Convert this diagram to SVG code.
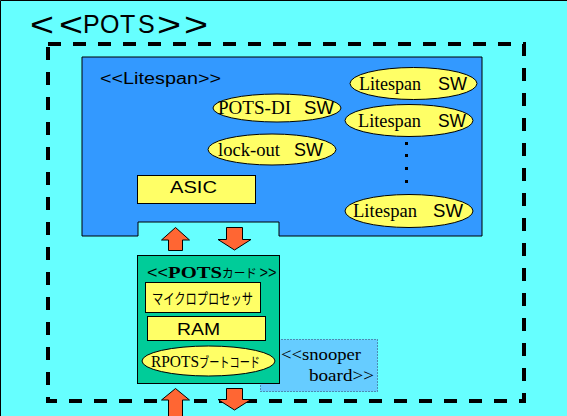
<svg xmlns="http://www.w3.org/2000/svg" width="567" height="416" viewBox="0 0 567 416">
<style>
.sans{font-family:"Liberation Sans","Noto Sans CJK JP",sans-serif;fill:#000}
.serif{font-family:"Liberation Serif","Noto Sans CJK JP",serif;fill:#000}
.cjk{font-family:"Noto Sans CJK JP",sans-serif;fill:#000}
.yel{fill:#FFFF66;stroke:#000;stroke-width:1}
.arrow{fill:#FF6633;stroke:#000;stroke-width:1}
.brk{font-family:"Liberation Sans",sans-serif;font-size:34px;fill:#000}
</style>
<rect x="0" y="0" width="567" height="416" fill="#66FFFF"/>
<path d="M0.5,416 V0.5 H567" fill="none" stroke="#000" stroke-width="1"/>
<g id="pots">
<text y="36"><tspan class="brk" x="30" textLength="24" lengthAdjust="spacingAndGlyphs">&lt;</tspan><tspan class="brk" x="59" textLength="24" lengthAdjust="spacingAndGlyphs">&lt;</tspan><tspan class="sans" font-size="25" x="83" y="33">P</tspan><tspan class="sans" font-size="25" x="100" y="33">O</tspan><tspan class="sans" font-size="25" x="120" y="33">T</tspan><tspan class="sans" font-size="25" x="138" y="33">S</tspan><tspan class="brk" x="157" y="36" textLength="24" lengthAdjust="spacingAndGlyphs">&gt;</tspan><tspan class="brk" x="184" y="36" textLength="24" lengthAdjust="spacingAndGlyphs">&gt;</tspan></text>
<path d="M48,44 H524 V401 H48 Z" fill="none" stroke="#000" stroke-width="4" stroke-dasharray="13 12"/>
</g>
<g id="litespan">
<path d="M82,57 H482 V236 H279 V222 H138 V236 H82 Z" fill="#3399FF" stroke="#000" stroke-width="1"/>
<text class="sans" font-size="16" x="100" y="84" textLength="121" lengthAdjust="spacingAndGlyphs">&lt;&lt;Litespan&gt;&gt;</text>
</g>
<g id="pots-di">
<ellipse class="yel" cx="277" cy="108" rx="64" ry="14"/>
<text y="114"><tspan class="serif" font-size="18" x="218" textLength="73" lengthAdjust="spacingAndGlyphs">POTS-DI</tspan><tspan class="sans" font-size="18" x="304" textLength="30" lengthAdjust="spacingAndGlyphs">SW</tspan></text>
</g>
<g id="lock-out">
<ellipse class="yel" cx="272" cy="149.5" rx="64" ry="15.5"/>
<text y="156"><tspan class="serif" font-size="18" x="218" textLength="62" lengthAdjust="spacingAndGlyphs">lock-out</tspan><tspan class="sans" font-size="18" x="294" textLength="29" lengthAdjust="spacingAndGlyphs">SW</tspan></text>
</g>
<g id="litespan-sw1">
<ellipse class="yel" cx="413.5" cy="83.5" rx="63.5" ry="16"/>
<text y="90"><tspan class="serif" font-size="18" x="359" textLength="62" lengthAdjust="spacingAndGlyphs">Litespan</tspan><tspan class="sans" font-size="18" x="438" textLength="29" lengthAdjust="spacingAndGlyphs">SW</tspan></text>
</g>
<g id="litespan-sw2">
<ellipse class="yel" cx="409" cy="120.5" rx="64" ry="16"/>
<text y="127"><tspan class="serif" font-size="18" x="358" textLength="63" lengthAdjust="spacingAndGlyphs">Litespan</tspan><tspan class="sans" font-size="18" x="438" textLength="28" lengthAdjust="spacingAndGlyphs">SW</tspan></text>
</g>
<g id="dots" fill="#000">
<rect x="405" y="142" width="3" height="3"/>
<rect x="405" y="154" width="3" height="3"/>
<rect x="405" y="167" width="3" height="3"/>
<rect x="405" y="180" width="3" height="3"/>
</g>
<g id="litespan-sw3">
<ellipse class="yel" cx="409" cy="211" rx="64" ry="16.5"/>
<text y="217"><tspan class="serif" font-size="18" x="353" textLength="64" lengthAdjust="spacingAndGlyphs">Litespan</tspan><tspan class="sans" font-size="18" x="433" textLength="30" lengthAdjust="spacingAndGlyphs">SW</tspan></text>
</g>
<g id="asic">
<rect class="yel" x="137.5" y="175.5" width="118" height="28"/>
<text class="sans" font-size="17" x="170" y="193" textLength="47" lengthAdjust="spacingAndGlyphs">ASIC</text>
</g>
<g id="snooper">
<rect x="260.5" y="339.5" width="117" height="52" fill="#66CCFF" stroke="#333366" stroke-width="1" stroke-dasharray="1 2"/>
<text class="serif" font-size="17" x="281" y="360" textLength="80" lengthAdjust="spacingAndGlyphs">&lt;&lt;snooper</text>
<text class="serif" font-size="17" x="309" y="381" textLength="65" lengthAdjust="spacingAndGlyphs">board&gt;&gt;</text>
</g>
<g id="pots-card">
<rect x="137.5" y="255.5" width="142" height="128" fill="#00CC99" stroke="#000" stroke-width="1"/>
<text y="278" font-size="17"><tspan class="sans" x="147" textLength="21" lengthAdjust="spacingAndGlyphs">&lt;&lt;</tspan><tspan class="serif" font-weight="bold" x="168" textLength="54" lengthAdjust="spacingAndGlyphs">POTS</tspan><tspan class="cjk" x="222" font-size="12.5" textLength="35" lengthAdjust="spacingAndGlyphs">カード</tspan><tspan class="sans" x="259.5" textLength="17" lengthAdjust="spacingAndGlyphs">&gt;&gt;</tspan></text>
</g>
<g id="microprocessor">
<rect class="yel" x="145.5" y="282.5" width="115" height="30"/>
<text class="cjk" font-size="15" x="152" y="304" textLength="101" lengthAdjust="spacingAndGlyphs">マイクロプロセッサ</text>
</g>
<g id="ram">
<rect class="yel" x="147.5" y="316.5" width="118" height="24"/>
<text class="sans" font-size="17" x="177" y="335" textLength="43" lengthAdjust="spacingAndGlyphs">RAM</text>
</g>
<g id="rpots-boot">
<ellipse class="yel" cx="208.5" cy="361" rx="66.5" ry="15"/>
<text y="367"><tspan class="serif" font-size="16" x="151" textLength="48" lengthAdjust="spacingAndGlyphs">RPOTS</tspan><tspan class="cjk" font-size="14" x="199" textLength="61" lengthAdjust="spacingAndGlyphs">ブートコード</tspan></text>
</g>
<g id="connectors">
<polygon class="arrow" points="175.5,227.5 189.5,240 182.5,240 182.5,250.5 168.5,250.5 168.5,240 161.5,240"/>
<polygon class="arrow" points="226.5,227.5 242.5,227.5 242.5,239.5 251,239.5 234.5,250 218,239.5 226.5,239.5"/>
<polygon class="arrow" points="175.5,388.5 189.5,400 182.5,400 182.5,417 168.5,417 168.5,400 161.5,400"/>
<polygon class="arrow" points="226.5,388.5 242.5,388.5 242.5,399.5 251,399.5 234.5,410 218,399.5 226.5,399.5"/>
</g>
</svg>
